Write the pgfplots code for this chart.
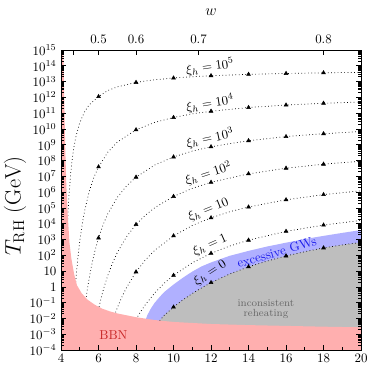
\documentclass[border=0pt]{standalone}
\usepackage{pgfplots}
\pgfplotsset{compat=1.18}
\definecolor{bbn}{RGB}{255,175,175}
\definecolor{gw}{RGB}{176,176,255}
\definecolor{inc}{RGB}{190,190,190}
\definecolor{bbntext}{RGB}{200,40,40}
\definecolor{gwtext}{RGB}{30,30,235}
\definecolor{inctext}{RGB}{105,105,105}
\begin{document}
\begin{tikzpicture}
\useasboundingbox (-47.2pt,-16.2pt) rectangle (238.2pt,270.7pt);
\pgfplotsset{common/.style={scale only axis,width=232pt,height=232pt,xmin=4,xmax=20,at={(0,0)},anchor=south west}}
% ---------------- data axis (y = log10 of T_RH / GeV) ----------------
\begin{axis}[common, ymin=-4, ymax=15, hide axis, clip=true]
% excessive GWs band
\addplot[fill=gw, draw=none] coordinates {(8.4,-2.3) (8.46,-2.25) (8.6,-1.8) (8.8,-1.35) (9.0,-1.0) (9.25,-0.65) (9.5,-0.33) (10,0.15) (10.5,0.58) (11,0.97) (11.5,1.3) (12,1.55) (13,1.97) (14,2.28) (15,2.56) (16,2.8) (17,3.03) (18,3.23) (19,3.42) (20,3.6) (20,-4) (8.4,-4)};
% inconsistent reheating
\addplot[fill=inc, draw=none] coordinates {(9.2,-2.25) (9.26,-2.14) (9.5,-1.8) (10,-1.28) (10.5,-0.82) (11,-0.42) (11.5,-0.06) (12,0.27) (13,0.82) (14,1.27) (15,1.64) (16,1.96) (17,2.23) (18,2.47) (19,2.66) (20,2.82) (20,-4) (9.2,-4)};
% dotted curves
\pgfplotsset{curve/.style={black, dotted, line width=0.55pt}}
\addplot[curve] coordinates {(4.35,4.09) (4.4,5.30) (4.45,6.24) (4.5,7.00) (4.6,8.13) (4.7,8.94) (4.8,9.55) (5.0,10.40) (5.25,11.08) (5.5,11.53) (6,12.05) (6.5,12.44) (7,12.67) (8,12.95) (9,13.12) (10,13.23) (11,13.31) (12,13.375) (14,13.46) (16,13.517) (18,13.557) (20,13.59)};
\addplot[curve] coordinates {(4.77,0.09) (4.8,0.55) (4.85,1.24) (4.9,1.86) (5.0,2.90) (5.1,3.75) (5.25,4.78) (5.5,6.03) (5.75,6.93) (6,7.60) (6.5,8.54) (7,9.17) (8,9.95) (9,10.42) (10,10.73) (11,10.96) (12,11.125) (14,11.36) (16,11.517) (18,11.629) (20,11.71)};
\addplot[curve] coordinates {(5.3,-1.05) (5.4,-0.20) (5.5,0.53) (5.65,1.47) (5.8,2.24) (6,3.10) (6.25,3.96) (6.5,4.64) (7,5.67) (7.5,6.40) (8,6.95) (9,7.72) (10,8.23) (11,8.60) (12,8.875) (14,9.26) (16,9.517) (18,9.70) (20,9.84)};
\addplot[curve] coordinates {(5.95,-1.67) (6,-1.40) (6.15,-0.65) (6.3,0.00) (6.5,0.74) (6.75,1.52) (7,2.17) (7.5,3.19) (8,3.95) (8.5,4.54) (9,5.02) (10,5.73) (11,6.24) (12,6.625) (14,7.16) (16,7.517) (18,7.771) (20,7.96)};
\addplot[curve] coordinates {(6.85,-1.81) (7,-1.33) (7.25,-0.63) (7.5,-0.03) (8,0.95) (8.5,1.71) (9,2.32) (10,3.23) (11,3.89) (12,4.375) (13,4.76) (14,5.06) (16,5.517) (18,5.843) (20,6.09)};
\addplot[curve] coordinates {(8,-2.05) (8.25,-1.56) (8.5,-1.12) (9,-0.38) (9.5,0.23) (10,0.73) (11,1.53) (12,2.125) (13,2.59) (14,2.96) (16,3.517) (18,3.914) (20,4.21)};
\addplot[curve] coordinates {(9.26,-2.14) (9.5,-1.8) (10,-1.28) (10.5,-0.82) (11,-0.42) (11.5,-0.06) (12,0.27) (13,0.82) (14,1.27) (15,1.64) (16,1.96) (17,2.23) (18,2.47) (19,2.66) (20,2.82)};
% markers
\pgfplotsset{tri/.style={only marks, mark=triangle*, mark size=1.7pt, black}}
\addplot[tri] coordinates {(6,12.05) (8,12.95) (10,13.23) (12,13.375) (14,13.46) (16,13.517) (18,13.557)};
\addplot[tri] coordinates {(6,7.60) (8,9.95) (10,10.73) (12,11.125) (14,11.36) (16,11.517) (18,11.629)};
\addplot[tri] coordinates {(6,3.10) (8,6.95) (10,8.23) (12,8.875) (14,9.26) (16,9.517) (18,9.70)};
\addplot[tri] coordinates {(8,3.95) (10,5.73) (12,6.625) (14,7.16) (16,7.517) (18,7.771)};
\addplot[tri] coordinates {(8,0.95) (10,3.23) (12,4.375) (14,5.06) (16,5.517) (18,5.843)};
\addplot[tri] coordinates {(10,0.73) (12,2.125) (14,2.96) (16,3.517) (18,3.914)};
\addplot[tri] coordinates {(10,-1.28) (12,0.27) (14,1.27) (16,1.96) (18,2.47)};
% BBN region
\addplot[fill=bbn, draw=none] coordinates {(4,15) (4.12,15) (4.17,12) (4.22,9) (4.28,6.5) (4.36,4.5) (4.45,2.8) (4.55,1.8) (4.7,0.8) (4.85,0.1) (5.1,-0.4) (5.4,-0.8) (5.8,-1.13) (6.2,-1.38) (6.6,-1.55) (7,-1.68) (7.5,-1.8) (8,-1.92) (9,-2.1) (10,-2.22) (12,-2.35) (14,-2.42) (16,-2.47) (18,-2.52) (20,-2.56) (20,-4) (4,-4)};
% labels
\node[rotate=8] at (axis cs:11.95,13.94) {$\xi_h = 10^5$};
\node[rotate=9] at (axis cs:11.95,11.62) {$\xi_h = 10^4$};
\node[rotate=12] at (axis cs:11.95,9.41) {$\xi_h = 10^3$};
\node[rotate=18] at (axis cs:11.86,7.19) {$\xi_h = 10^2$};
\node[rotate=22] at (axis cs:11.86,4.87) {$\xi_h = 10$};
\node[rotate=24] at (axis cs:11.95,2.65) {$\xi_h = 1$};
\node[rotate=33] at (axis cs:11.95,0.9) {$\xi_h = 0$};
\node[rotate=16, text=gwtext] at (axis cs:15.5,2.2) {excessive GWs};
\node[text=inctext, font=\footnotesize, align=center, inner sep=0pt] at (axis cs:14.93,-1.42) {inconsistent\\[-2pt]reheating};
\node[text=bbntext] at (axis cs:6.79,-3.05) {BBN};
\end{axis}
% ---------------- frame axis ----------------
\begin{axis}[common, ymode=log, ymin=1e-4, ymax=1e15,
  ytickten={-4,...,15},
  yticklabels={$10^{-4}$,$10^{-3}$,$10^{-2}$,$10^{-1}$,$1$,$10$,$10^{2}$,$10^{3}$,$10^{4}$,$10^{5}$,$10^{6}$,$10^{7}$,$10^{8}$,$10^{9}$,$10^{10}$,$10^{11}$,$10^{12}$,$10^{13}$,$10^{14}$,$10^{15}$},
  xtick={4,6,...,20}, minor xtick={5,7,...,19},
  xtick pos=bottom, ytick pos=both, yticklabel pos=left,
  tick align=inside, major tick length=4pt, minor tick length=2pt,
  every tick/.style={black, line width=0.6pt},
  axis line style={line width=0.7pt},
  ylabel={$T_{\mathrm{RH}}\ (\mathrm{GeV})$},
  ylabel style={font=\LARGE, at={(axis description cs:-0.153,0.48)}, anchor=center}]
\addplot[draw=none] coordinates {(4,1) (20,1)};
\end{axis}
% ---------------- top w axis ----------------
\begin{axis}[common, ymin=0, ymax=1, axis x line=top, axis y line=none, axis line style={-, line width=0.7pt},
  xtick={4.6667,6,8,11.3333,18}, xticklabels={,0.5,0.6,0.7,0.8},
  tick align=inside, major tick length=4pt, every tick/.style={black, line width=0.6pt},
  xticklabel style={yshift=1.5pt},
  xlabel={$w$}, xlabel style={font=\large, at={(axis description cs:0.5,1.127)}, anchor=center}]
\addplot[draw=none] coordinates {(4,0.5) (20,0.5)};
\end{axis}
\end{tikzpicture}
\end{document}
